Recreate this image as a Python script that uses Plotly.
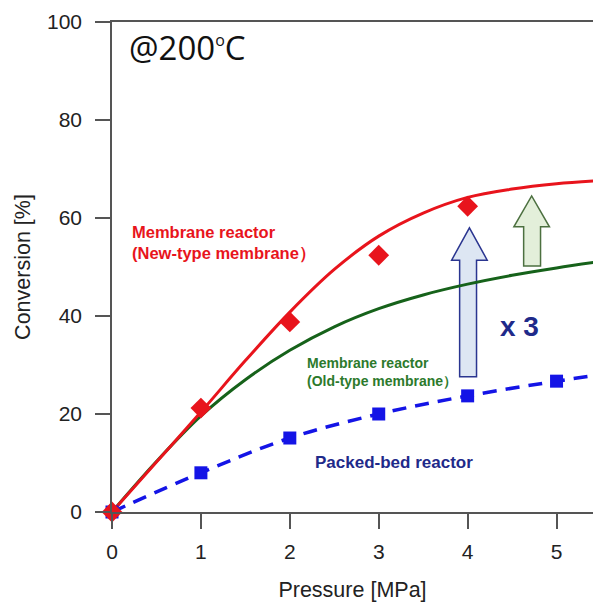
import plotly.graph_objects as go

# ---- data ----
pressure_pts = [0, 1, 2, 3, 4, 5]
new_membrane_pts = [0, 21.2, 38.8, 52.4, 62.4]
packed_bed_pts = [0, 8.0, 15.1, 20.0, 23.7, 26.7]

curve_x = [0, 0.5, 1, 1.5, 2, 2.5, 3, 3.5, 4, 4.5, 5, 5.45]
new_membrane_curve = [0, 10.2, 20.4, 30.9, 40.8, 49.5, 56.3, 61.0, 64.2, 65.9, 67.0, 67.6]
old_membrane_curve = [0, 10.3, 19.6, 27.0, 33.0, 37.8, 41.5, 44.3, 46.5, 48.3, 49.8, 51.0]
packed_bed_curve_x = [0, 1, 2, 3, 4, 5, 5.45]
packed_bed_curve = [0, 8.0, 15.1, 20.0, 23.7, 26.7, 27.9]

x_ticks = [0, 1, 2, 3, 4, 5]
y_ticks = [0, 20, 40, 60, 80, 100]

RED = "#e8141c"
GREEN = "#16621a"
BLUE = "#1414e6"
NAVY = "#1f2a8a"
LABEL_GREEN = "#2c7a2c"

fig = go.Figure()

fig.add_trace(go.Scatter(x=curve_x, y=old_membrane_curve, mode="lines",
                         line=dict(color=GREEN, width=3, shape="spline"), showlegend=False))
fig.add_trace(go.Scatter(x=curve_x, y=new_membrane_curve, mode="lines",
                         line=dict(color=RED, width=3, shape="spline"), showlegend=False))
fig.add_trace(go.Scatter(x=packed_bed_curve_x, y=packed_bed_curve, mode="lines",
                         line=dict(color=BLUE, width=3.5, shape="spline", dash="14px,9px"),
                         showlegend=False))
fig.add_trace(go.Scatter(x=pressure_pts, y=packed_bed_pts, mode="markers",
                         marker=dict(symbol="square", size=13, color=BLUE),
                         cliponaxis=False, showlegend=False))
fig.add_trace(go.Scatter(x=pressure_pts[:5], y=new_membrane_pts, mode="markers",
                         marker=dict(symbol="diamond", size=16, color=RED),
                         cliponaxis=False, showlegend=False))


def arrow_path(xc_left, xc_right, head_left, head_right, bottom, head_base, tip):
    xm = (head_left + head_right) / 2
    return (f"M {xc_left},{bottom} L {xc_left},{head_base} L {head_left},{head_base} "
            f"L {xm},{tip} L {head_right},{head_base} L {xc_right},{head_base} "
            f"L {xc_right},{bottom} Z")


# arrow geometry (data coordinates)
blue_arrow = dict(xc_left=3.91, xc_right=4.10, head_left=3.82, head_right=4.22,
                  bottom=27.6, head_base=51.4, tip=58.0)
green_arrow = dict(xc_left=4.63, xc_right=4.82, head_left=4.52, head_right=4.92,
                   bottom=50.2, head_base=58.2, tip=64.5)

fig.add_shape(type="path", path=arrow_path(**blue_arrow), xref="x", yref="y",
              fillcolor="#dde6f3", line=dict(color="#2a3590", width=1.5), layer="below")
fig.add_shape(type="path", path=arrow_path(**green_arrow), xref="x", yref="y",
              fillcolor="#e3efda", line=dict(color="#4c7040", width=1.5), layer="below")

annos = [
    dict(x=0.17, y=94.8,
         text="@200<sup><span style='font-size:16px'>o</span></sup>C",
         xanchor="left", yanchor="middle",
         font=dict(family="Open Sans", size=33, color="#111")),
    dict(x=0.2, y=55.0, text="Membrane reactor<br>(New-type membrane）", xanchor="left",
         yanchor="middle", align="left",
         font=dict(family="Liberation Sans", size=16.5, color=RED, weight="bold")),
    dict(x=2.17, y=28.6, text="Membrane reactor<br>(Old-type membrane）", xanchor="left",
         yanchor="middle", align="left",
         font=dict(family="Liberation Sans", size=14, color=LABEL_GREEN, weight="bold")),
    dict(x=2.26, y=10.2, text="Packed-bed reactor", xanchor="left", yanchor="middle",
         font=dict(family="Liberation Sans", size=17, color=NAVY, weight="bold")),
    dict(x=4.34, y=37.8, text="x 3", xanchor="left", yanchor="middle",
         font=dict(family="Liberation Sans", size=28, color=NAVY, weight="bold")),
]
for a in annos:
    fig.add_annotation(xref="x", yref="y", showarrow=False, **a)

axis_common = dict(showgrid=False, zeroline=False, showline=True, linecolor="#555",
                   linewidth=1.5, ticks="outside", ticklen=15, tickwidth=1.5,
                   tickcolor="#555", tickfont=dict(family="Liberation Sans", size=21, color="#222"),
                   title_font=dict(family="Liberation Sans", size=21.5, color="#222"))

fig.update_xaxes(range=[0, 5.41], tickvals=x_ticks, title_text="Pressure [MPa]",
                 mirror=True, ticklabelstandoff=5, title_standoff=22, **axis_common)
fig.update_yaxes(range=[0, 100], tickvals=y_ticks, title_text="Conversion [%]",
                 ticklabelstandoff=9, title_standoff=10, **axis_common)

fig.update_layout(width=593, height=602, margin=dict(l=112, r=0, t=22, b=90),
                  paper_bgcolor="white", plot_bgcolor="white", showlegend=False)

# remove the default page margin so the figure fills the window exactly
fig.write_html("out.html", config={"displayModeBar": False},
               post_script="document.body.style.margin='0';"
                           "document.body.style.overflow='hidden';")
